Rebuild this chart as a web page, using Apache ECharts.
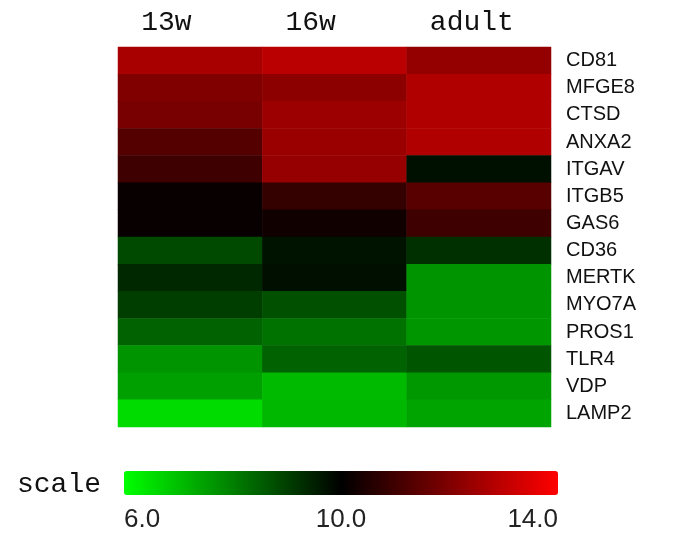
<!DOCTYPE html>
<html>
<head>
<meta charset="utf-8">
<script src="https://cdn.jsdelivr.net/npm/echarts@6/dist/echarts.min.js"></script>
<style>
  html, body { margin: 0; padding: 0; background: #fff; }
  #chart { width: 673px; height: 536px; }
</style>
</head>
<body>
<div id="chart"></div>
<script>
// 样本（列）与基因（行）
var stages = ['13w', '16w', 'adult']
var genes = ['CD81', 'MFGE8', 'CTSD', 'ANXA2', 'ITGAV', 'ITGB5', 'GAS6',
             'CD36', 'MERTK', 'MYO7A', 'PROS1', 'TLR4', 'VDP', 'LAMP2']

// 各列表达值（从颜色读出，约数）
var v13w  = [12.64, 12.0, 11.88, 11.33, 10.97, 10.13, 10.13, 8.84, 9.37, 9.03, 8.46, 7.68, 7.49, 6.55]
var v16w  = [12.92, 12.2, 12.45, 12.42, 12.35, 10.83, 10.25, 9.72, 9.76, 8.75, 8.21, 8.46, 7.08, 7.11]
var vAdult = [12.32, 12.76, 12.76, 12.76, 9.75, 11.38, 10.97, 9.25, 7.68, 7.68, 7.65, 8.67, 7.62, 7.43]

// 色标范围
var scaleMin = 6
var scaleMax = 14
var scaleLabels = [6, 10, 14]

var columns = [v13w, v16w, vAdult]
var data = []
for (let c = 0; c < columns.length; c++) {
  for (let r = 0; r < genes.length; r++) {
    data.push([c, r, columns[c][r]])
  }
}

var myChart = echarts.init(document.getElementById('chart'))
var option = {
  animation: false,
  title: {
    text: 'scale',
    left: 12,
    top: 466,
    textStyle: {
      fontFamily: 'Liberation Mono',
      fontSize: 28,
      fontWeight: 'normal',
      color: '#111'
    }
  },
  grid: [
    { left: 118, top: 47, width: 433, height: 380 },
    // 色标下方的刻度
    { left: 124, top: 495, width: 434, height: 1 }
  ],
  xAxis: [
    {
      type: 'category',
      data: stages,
      position: 'top',
      gridIndex: 0,
      axisLine: { show: false },
      axisTick: { show: false },
      axisLabel: {
        margin: 10,
        formatter: function (v) { return '{a|' + v + '}' },
        rich: {
          a: {
            width: 98,
            align: 'left',
            fontFamily: 'Liberation Mono',
            fontSize: 28,
            color: '#111'
          }
        }
      }
    },
    {
      type: 'value',
      gridIndex: 1,
      min: scaleMin,
      max: scaleMax,
      interval: 2,
      splitLine: { show: false },
      axisLine: { show: false },
      axisTick: { show: false },
      axisLabel: {
        margin: 11,
        alignMinLabel: 'left',
        alignMaxLabel: 'right',
        fontFamily: 'Liberation Sans',
        fontSize: 26,
        color: '#222',
        formatter: function (v) {
          return scaleLabels.indexOf(v) >= 0 ? v.toFixed(1) : ''
        }
      }
    }
  ],
  yAxis: [
    {
      type: 'category',
      data: genes,
      inverse: true,
      position: 'right',
      gridIndex: 0,
      axisLine: { show: false },
      axisTick: { show: false },
      axisLabel: {
        margin: 15,
        fontFamily: 'Liberation Sans',
        fontSize: 20,
        color: '#111'
      }
    },
    {
      type: 'value',
      gridIndex: 1,
      show: false
    }
  ],
  visualMap: {
    type: 'continuous',
    min: scaleMin,
    max: scaleMax,
    calculable: false,
    orient: 'horizontal',
    left: 124,
    top: 471,
    padding: 0,
    itemWidth: 24,
    itemHeight: 434,
    seriesIndex: 0,
    inRange: {
      color: ['#00ff00', '#000000', '#ff0000']
    }
  },
  series: [
    {
      type: 'heatmap',
      xAxisIndex: 0,
      yAxisIndex: 0,
      data: data,
      itemStyle: { borderWidth: 0 },
      emphasis: { disabled: true }
    }
  ]
}
myChart.setOption(option, true)
</script>
</body>
</html>
